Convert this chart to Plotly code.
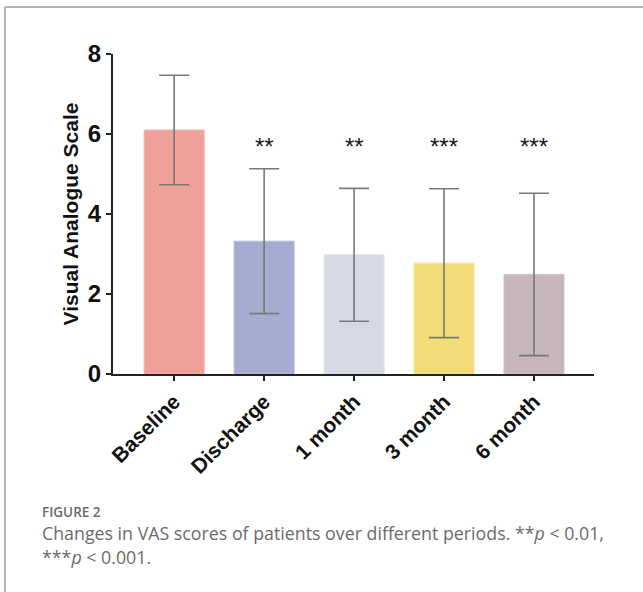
import plotly.graph_objects as go

# VAS scores by follow-up period (mean ± SD)
periods = ["Baseline", "Discharge", "1 month", "3 month", "6 month"]
vas_mean = [6.10, 3.32, 2.98, 2.77, 2.49]
vas_sd = [1.37, 1.81, 1.66, 1.86, 2.03]
significance = ["", "**", "**", "***", "***"]
star_level = 5.70

bar_colors = ["#EFA199", "#A4ACD0", "#D5D9E6", "#F3DB77", "#C6B5BA"]
edge_colors = ["#F3B4AE", "#B4BAD9", "#DFE2EC", "#F6E293", "#D1C3C7"]

W, H = 643, 592
L, R, T, B = 113, 49, 54, 218
plot_w, plot_h = W - L - R, H - T - B


def px_x(p):
    return (p - L) / plot_w


def px_y(p):
    return (H - B - p) / plot_h


fig = go.Figure()
fig.add_trace(go.Bar(
    x=periods,
    y=vas_mean,
    width=0.667,
    marker=dict(color=bar_colors, line=dict(color=edge_colors, width=1)),
    error_y=dict(type="data", array=vas_sd, visible=True,
                 color="#787878", thickness=1.6, width=15),
    showlegend=False,
    hoverinfo="skip",
))

for p, s in zip(periods, significance):
    if s:
        fig.add_annotation(x=p, y=star_level, xref="x", yref="y", text=s,
                           showarrow=False, yanchor="middle",
                           font=dict(family="Arial, Liberation Sans", size=24, color="#1a1a1a"))

fig.update_xaxes(
    range=[-0.68, 4.667],
    showline=True, linecolor="#222222", linewidth=2,
    ticks="outside", ticklen=5, tickwidth=2, tickcolor="#222222",
    tickangle=-45,
    tickfont=dict(family="Arial, Liberation Sans", size=21, color="#111111", weight="bold"),
    showgrid=False, zeroline=False,
)
fig.update_yaxes(
    range=[0, 8],
    tickvals=[0, 2, 4, 6, 8],
    showline=True, linecolor="#222222", linewidth=2,
    ticks="outside", ticklen=5, tickwidth=2, tickcolor="#222222",
    tickfont=dict(family="Arial, Liberation Sans", size=24, color="#111111", weight="bold"),
    title=dict(text="Visual Analogue Scale",
               font=dict(family="Arial, Liberation Sans", size=21, color="#111111", weight="bold"),
               standoff=3),
    showgrid=False, zeroline=False,
)

# Figure frame (top and left rules)
frame = dict(color="#B3B3B3", width=2)
fig.add_shape(type="line", xref="paper", yref="paper",
              x0=px_x(5), x1=px_x(W), y0=px_y(7), y1=px_y(7), line=frame)
fig.add_shape(type="line", xref="paper", yref="paper",
              x0=px_x(5), x1=px_x(5), y0=px_y(7), y1=px_y(H), line=frame)

caption_font = dict(family="Open Sans", color="#6b6b6b")
fig.add_annotation(xref="paper", yref="paper", x=px_x(40), y=px_y(512),
                   xanchor="left", yanchor="middle", showarrow=False,
                   text="FIGURE 2", font=dict(size=13.5, weight=600, **caption_font))
fig.add_annotation(xref="paper", yref="paper", x=px_x(40), y=px_y(533),
                   xanchor="left", yanchor="middle", showarrow=False,
                   text="Changes in VAS scores of patients over different periods. **<i>p</i> &lt; 0.01,",
                   font=dict(size=17.8, **caption_font))
fig.add_annotation(xref="paper", yref="paper", x=px_x(40), y=px_y(557),
                   xanchor="left", yanchor="middle", showarrow=False,
                   text="***<i>p</i> &lt; 0.001.",
                   font=dict(size=17.8, **caption_font))

fig.update_layout(
    width=W, height=H,
    margin=dict(l=L, r=R, t=T, b=B),
    paper_bgcolor="white", plot_bgcolor="white",
    bargap=0.333,
)

fig.write_html("out.html")
